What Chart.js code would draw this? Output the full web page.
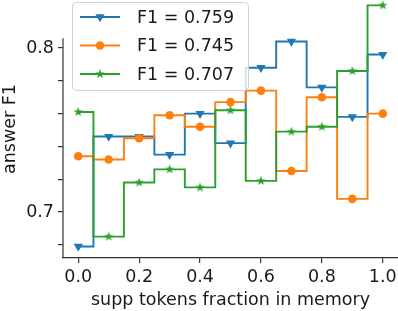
<html><head>
<meta charset="UTF-8">
<title>answer F1 vs supp tokens fraction in memory</title>
<style>
  body {
    margin: 0;
    background-color: #ffffff;
  }
</style>
<script src="https://cdn.jsdelivr.net/npm/chart.js"></script>
</head>
<body>
<canvas id="f1Chart" width="398" height="311"></canvas>

<script>
// values
const fractions = [0.0, 0.1, 0.2, 0.3, 0.4, 0.5, 0.6, 0.7, 0.8, 0.9, 1.0];
const blueF1   = [0.679, 0.746, 0.746, 0.735, 0.760, 0.742, 0.788, 0.804, 0.776, 0.758, 0.796];
const orangeF1 = [0.734, 0.732, 0.745, 0.759, 0.752, 0.767, 0.774, 0.725, 0.770, 0.708, 0.760];
const greenF1  = [0.761, 0.685, 0.718, 0.726, 0.715, 0.762, 0.719, 0.749, 0.752, 0.786, 0.826];
const legendLabels = ['F1 = 0.759', 'F1 = 0.745', 'F1 = 0.707'];

const xTickValues = [0.0, 0.2, 0.4, 0.6, 0.8, 1.0];
const yTickValues = [0.68, 0.70, 0.72, 0.74, 0.76, 0.78, 0.80];
const yLabelled = [0.7, 0.8];

const BLUE = '#1f77b4', ORANGE = '#ff7f0e', GREEN = '#2ca02c';
const FONT = 'DejaVu Sans';

// matplotlib style filled star
function starImage(color, r) {
  const c = document.createElement('canvas');
  const s = Math.ceil(r * 2 + 2);
  c.width = s;
  c.height = s;
  const g = c.getContext('2d');
  g.beginPath();
  for (let i = 0; i < 10; i++) {
    const rad = i % 2 === 0 ? r : r * 0.4;
    const a = -Math.PI / 2 + i * Math.PI / 5;
    g.lineTo(s / 2 + rad * Math.cos(a), s / 2 + rad * Math.sin(a));
  }
  g.closePath();
  g.fillStyle = color;
  g.fill();
  return c;
}

function points(values) {
  return fractions.map((x, i) => ({x: x, y: values[i]}));
}

const noPadding = () => ({left: 0, top: 0, right: 0, bottom: 0});

// legend drawn as a rounded box like matplotlib's
const boxLegend = {
  id: 'boxLegend',
  afterDatasetsDraw(chart) {
    const ctx = chart.ctx;
    ctx.save();
    ctx.beginPath();
    ctx.roundRect(72.5, 2.5, 176, 88, 4);
    ctx.fillStyle = 'rgba(255,255,255,0.8)';
    ctx.fill();
    ctx.strokeStyle = '#d0d0d0';
    ctx.lineWidth = 1;
    ctx.stroke();

    chart.data.datasets.forEach((ds, i) => {
      const y = 17 + i * 28.5;
      ctx.beginPath();
      ctx.moveTo(80, y);
      ctx.lineTo(120, y);
      ctx.strokeStyle = ds.borderColor;
      ctx.lineWidth = ds.borderWidth;
      ctx.stroke();
      ctx.fillStyle = ds.borderColor;
      Chart.helpers.drawPoint(ctx, {
        pointStyle: ds.pointStyle,
        radius: ds.pointRadius,
        rotation: ds.pointRotation || 0,
        borderWidth: 0
      }, 100, y);
      ctx.fillStyle = '#1a1a1a';
      ctx.font = '17.5px "' + FONT + '"';
      ctx.textBaseline = 'middle';
      ctx.textAlign = 'left';
      ctx.fillText(legendLabels[i], 137, y + 1);
    });
    ctx.restore();
  }
};

// left spine stops where the original axes box ends
const leftSpine = {
  id: 'leftSpine',
  beforeDatasetsDraw(chart) {
    const ctx = chart.ctx;
    const area = chart.chartArea;
    const top = chart.scales.y.getPixelForValue(0.806);
    ctx.save();
    ctx.beginPath();
    ctx.moveTo(area.left, top);
    ctx.lineTo(area.left, area.bottom);
    ctx.strokeStyle = '#333333';
    ctx.lineWidth = 1.2;
    ctx.stroke();
    ctx.restore();
  }
};

const common = {
  type: 'line',
  stepped: 'middle',
  borderWidth: 1.9,
  pointBorderWidth: 0,
  clip: false,
  fill: false
};

new Chart(document.getElementById('f1Chart'), {
  type: 'line',
  data: {
    datasets: [
      Object.assign({}, common, {
        label: legendLabels[0],
        data: points(blueF1),
        borderColor: BLUE,
        pointBackgroundColor: BLUE,
        pointStyle: 'triangle',
        pointRotation: 180,
        pointRadius: 5.3,
        order: 3
      }),
      Object.assign({}, common, {
        label: legendLabels[1],
        data: points(orangeF1),
        borderColor: ORANGE,
        pointBackgroundColor: ORANGE,
        pointStyle: 'circle',
        pointRadius: 4.3,
        order: 2
      }),
      Object.assign({}, common, {
        label: legendLabels[2],
        data: points(greenF1),
        borderColor: GREEN,
        pointBackgroundColor: GREEN,
        pointStyle: starImage(GREEN, 5),
        pointRadius: 5,
        order: 1
      })
    ]
  },
  options: {
    responsive: false,
    animation: false,
    events: [],
    // no auto padding for point overflow: the plot runs to the canvas edge
    layout: {padding: 0, autoPadding: false},
    plugins: {
      legend: {display: false},
      tooltip: {enabled: false}
    },
    scales: {
      x: {
        type: 'linear',
        min: -0.05,
        max: 1.05,
        afterBuildTicks: (scale) => { scale.ticks = xTickValues.map(v => ({value: v})); },
        afterFit: (scale) => {
          scale.height = 53;
          scale.paddingLeft = 0;
          scale.paddingRight = 0;
          scale.getPadding = noPadding;
        },
        ticks: {
          callback: (v) => v.toFixed(1),
          font: {family: FONT, size: 17.5},
          color: '#1a1a1a',
          padding: 4,
          maxRotation: 0,
          autoSkip: false
        },
        grid: {drawOnChartArea: false, drawTicks: true, tickLength: 5, color: '#333333', lineWidth: 1.2},
        border: {display: true, color: '#333333', width: 1.2},
        title: {
          display: true,
          text: 'supp tokens fraction in memory',
          font: {family: FONT, size: 17.5},
          color: '#1a1a1a',
          padding: 0
        }
      },
      y: {
        type: 'linear',
        min: 0.67195,
        max: 0.82927,
        afterBuildTicks: (scale) => { scale.ticks = yTickValues.map(v => ({value: v})); },
        afterFit: (scale) => {
          scale.width = 63;
          scale.paddingTop = 0;
          scale.paddingBottom = 0;
          scale.getPadding = noPadding;
        },
        ticks: {
          callback: (v) => yLabelled.some(t => Math.abs(t - v) < 1e-6) ? v.toFixed(1) : '',
          font: {family: FONT, size: 17.5},
          color: '#1a1a1a',
          padding: 4,
          autoSkip: false
        },
        grid: {drawOnChartArea: false, drawTicks: true, tickLength: 5, color: '#333333', lineWidth: 1.2},
        border: {display: false},
        title: {
          display: true,
          text: 'answer F1',
          font: {family: FONT, size: 17.5},
          color: '#1a1a1a',
          padding: 0
        }
      }
    }
  },
  plugins: [leftSpine, boxLegend]
});
</script>
</body></html>
